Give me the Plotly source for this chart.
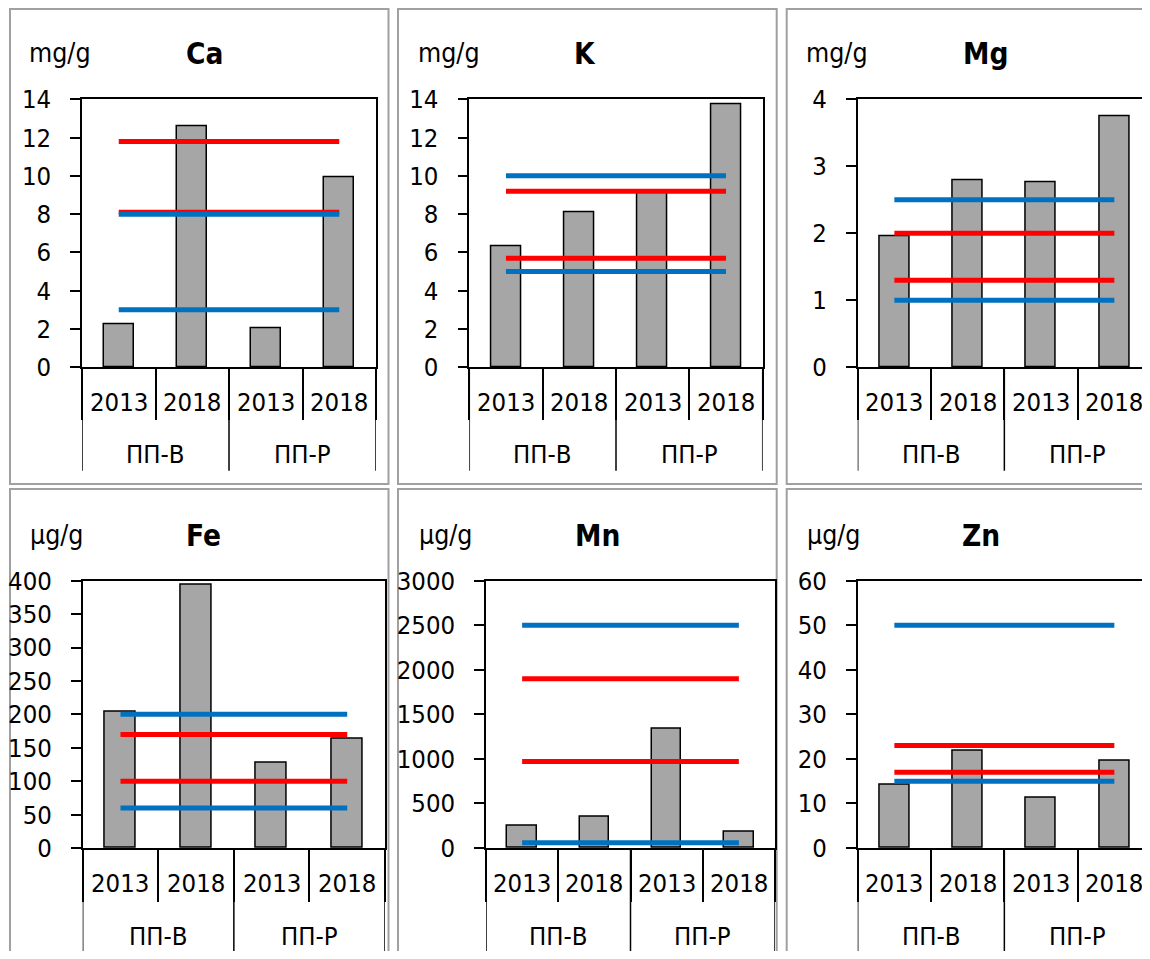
import plotly.graph_objects as go

# ---------------- data ----------------
years = ["2013", "2018", "2013", "2018"]
groups = ["ПП-В", "ПП-Р"]

elements = ["Ca", "K", "Mg", "Fe", "Mn", "Zn"]
units = ["mg/g", "mg/g", "mg/g", "µg/g", "µg/g", "µg/g"]

ca_vals = [2.25, 12.6, 2.05, 9.95]
k_vals = [6.3, 8.08, 9.15, 13.72]
mg_vals = [1.96, 2.79, 2.76, 3.74]
fe_vals = [204, 394, 127, 163]
mn_vals = [250, 350, 1335, 183]
zn_vals = [14.1, 21.8, 11.3, 19.5]

ca_red = [11.8, 8.1]
k_red = [9.2, 5.7]
mg_red = [2.0, 1.3]
fe_red = [170, 100]
mn_red = [1900, 970]
zn_red = [23, 17]

ca_blue = [8.0, 3.0]
k_blue = [10, 5]
mg_blue = [2.5, 1.0]
fe_blue = [200, 60]
mn_blue = [2500, 60]
zn_blue = [50, 15]

y_max = [14, 14, 4, 400, 3000, 60]
y_dtick = [2, 2, 1, 50, 500, 10]

bar_values = [ca_vals, k_vals, mg_vals, fe_vals, mn_vals, zn_vals]
red_levels = [ca_red, k_red, mg_red, fe_red, mn_red, zn_red]
blue_levels = [ca_blue, k_blue, mg_blue, fe_blue, mn_blue, zn_blue]

# ---------------- layout geometry (screen pixels) ----------------
OFF = 8                       # page offset of the figure inside the browser window
SCREEN_W, SCREEN_H = 1150, 959
W, H = SCREEN_W - OFF, SCREEN_H - 2 * OFF
FONT = "DejaVu Sans Condensed, Tahoma, DejaVu Sans, sans-serif"
BAR_COLOR = "#a6a6a6"
RED = "#ff0000"
BLUE = "#0070c0"
TXT = 25.5

def px_x(p):
    return (p - OFF) / W

def px_y(p):
    return 1 - (p - OFF) / H

# plot areas: (left, right, top, bottom)
plot_px = [
    (82, 376, 99.3, 367.3),
    (469.3, 762.7, 99.3, 367.3),
    (857.7, 1151, 99.3, 367.3),
    (82.7, 385, 580.7, 848),
    (486, 775, 580.7, 848),
    (857.7, 1151, 580.7, 848),
]
# panel borders
border_px = [
    (10, 388.5, 9, 484),
    (398, 776.7, 9, 484),
    (786.7, 1170, 9, 484),
    (10, 388.5, 489, 985),
    (398, 776.7, 489, 985),
    (786.7, 1170, 489, 985),
]
unit_pos = [(60.3, 52.5), (448.7, 52.5), (836.7, 52.5),
            (56.3, 534), (445, 534), (833.3, 534)]
title_pos = [(204.2, 54.5), (585, 54.5), (985.8, 54.5),
             (203.8, 535.7), (597.5, 535.7), (981.3, 535.7)]
# row-specific positions (year centre, group centre, year sep end, group sep end)
row_pos = [(402.2, 454.2, 418.3, 470.7), (883.3, 935.8, 900, 951.7)]

fig = go.Figure()
shapes = []
annotations = []
ncat = len(years)
xpos = list(range(ncat))

for i in range(6):
    sfx = "" if i == 0 else str(i + 1)
    xa, ya = "x" + sfx, "y" + sfx
    l, r, t, b = plot_px[i]
    row = 0 if i < 3 else 1
    clipped = r > SCREEN_W
    r_vis = min(r, SCREEN_W - 0.5)
    x_end = -0.5 + ncat * (r_vis - l) / (r - l)

    fig.add_trace(go.Bar(
        x=xpos, y=bar_values[i], width=0.41,
        marker=dict(color=BAR_COLOR, line=dict(color="black", width=1.5)),
        xaxis=xa, yaxis=ya, showlegend=False, hoverinfo="y"))
    for lev in red_levels[i]:
        fig.add_trace(go.Scatter(
            x=xpos, y=[lev] * ncat, mode="lines",
            line=dict(color=RED, width=5), xaxis=xa, yaxis=ya,
            showlegend=False, hoverinfo="y"))
    for lev in blue_levels[i]:
        fig.add_trace(go.Scatter(
            x=xpos, y=[lev] * ncat, mode="lines",
            line=dict(color=BLUE, width=5), xaxis=xa, yaxis=ya,
            showlegend=False, hoverinfo="y"))

    fig.layout["xaxis" + sfx] = dict(
        domain=[px_x(l), min(px_x(r_vis), 1.0)], range=[-0.5, x_end],
        anchor=ya, showgrid=False, zeroline=False, automargin=False,
        showline=True, linecolor="black", linewidth=1.5, mirror=True,
        tickmode="array",
        tickvals=[k - 0.5 for k in range(ncat + 1) if k - 0.5 <= x_end + 1e-9],
        ticks="outside", ticklen=row_pos[row][2] - b, tickwidth=1.5,
        tickcolor="black", showticklabels=False, fixedrange=True)
    fig.layout["yaxis" + sfx] = dict(
        domain=[px_y(b), px_y(t)], range=[0, y_max[i]],
        anchor=xa, showgrid=False, zeroline=False, automargin=False,
        showline=True, linecolor="black", linewidth=1.5, mirror=not clipped,
        tick0=0, dtick=y_dtick[i], ticks="outside", ticklen=10,
        tickwidth=1.5, tickcolor="black", ticklabelstandoff=14,
        tickfont=dict(family=FONT, size=TXT, color="black"), fixedrange=True)

    # group dividers
    for gx in [-0.5, 1.5, 3.5]:
        if gx > x_end + 1e-9:
            continue
        shapes.append(dict(type="line", xref=xa, yref="paper",
                           x0=gx, x1=gx, y0=px_y(b), y1=px_y(row_pos[row][3]),
                           line=dict(color="black", width=1.5)))
    # panel border
    bl, br, bt, bb = border_px[i]
    shapes.append(dict(type="rect", xref="paper", yref="paper",
                       x0=px_x(bl), x1=px_x(br), y0=px_y(bb), y1=px_y(bt),
                       line=dict(color="#a0a0a0", width=2), layer="below"))

    # year labels
    for k, yr in enumerate(years):
        annotations.append(dict(x=k, y=px_y(row_pos[row][0]), xref=xa, yref="paper",
                                text=yr, showarrow=False, xanchor="center", yanchor="middle",
                                font=dict(family=FONT, size=TXT, color="black")))
    # group labels
    for g, name in enumerate(groups):
        annotations.append(dict(x=2 * g + 0.5, y=px_y(row_pos[row][1]), xref=xa, yref="paper",
                                text=name, showarrow=False, xanchor="center", yanchor="middle",
                                font=dict(family=FONT, size=TXT, color="black")))
    # unit and title
    ux, uy = unit_pos[i]
    annotations.append(dict(x=px_x(ux), y=px_y(uy), xref="paper", yref="paper",
                            text=units[i], showarrow=False, xanchor="center", yanchor="middle",
                            font=dict(family=FONT, size=26.5, color="black")))
    tx, ty = title_pos[i]
    annotations.append(dict(x=px_x(tx), y=px_y(ty), xref="paper", yref="paper",
                            text="<b>" + elements[i] + "</b>", showarrow=False,
                            xanchor="center", yanchor="middle",
                            font=dict(family=FONT, size=29.5, color="black")))

fig.update_layout(
    width=W, height=H,
    margin=dict(l=0, r=0, t=0, b=0, pad=0, autoexpand=False),
    paper_bgcolor="white", plot_bgcolor="white",
    shapes=shapes, annotations=annotations, showlegend=False,
    bargap=0, font=dict(family=FONT, color="black"))

fig.write_html("out.html")
